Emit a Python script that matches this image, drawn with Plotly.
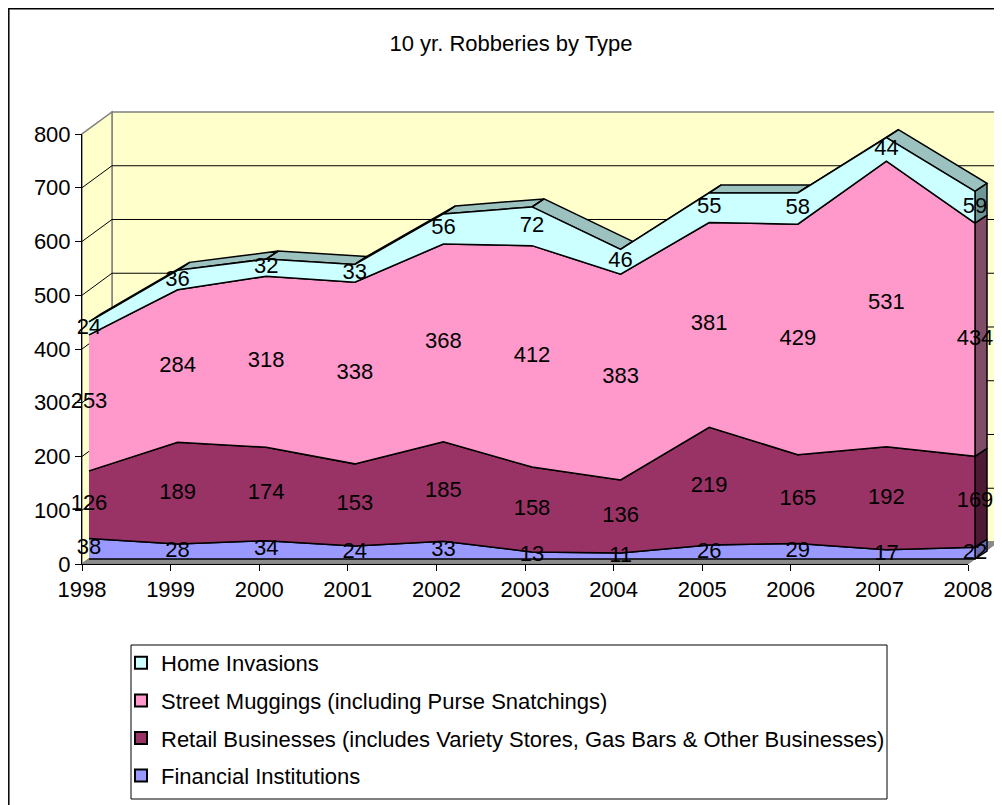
import plotly.graph_objects as go

# ---------------- data ----------------
years = [1998, 1999, 2000, 2001, 2002, 2003, 2004, 2005, 2006, 2007, 2008]
financial = [38, 28, 34, 24, 33, 13, 11, 26, 29, 17, 22]
retail = [126, 189, 174, 153, 185, 158, 136, 219, 165, 192, 169]
street = [253, 284, 318, 338, 368, 412, 383, 381, 429, 531, 434]
home = [24, 36, 32, 33, 56, 72, 46, 55, 58, 44, 59]
y_ticks = [0, 100, 200, 300, 400, 500, 600, 700, 800]

names = ["Financial Institutions",
         "Retail Businesses (includes Variety Stores, Gas Bars & Other Businesses)",
         "Street Muggings (including Purse Snatchings)",
         "Home Invasions"]
front_colors = ["#9999FF", "#993366", "#FF99CC", "#CCFFFF"]
side_colors = ["#6B6BB3", "#4D1A33", "#804D66", "#6E9696"]
top_color = "#9CC2C0"

# ---------------- geometry (page pixels) ----------------
W, H = 1002, 805
OFF = 8                      # page offset of the figure div (body margin)
FX0, FX1 = 82, 968           # front x axis: 1998 .. 2008
FY0, FY800 = 564, 134        # front y axis: 0 .. 800
PXY = (FX1 - FX0) / (years[-1] - years[0])
PXV = (FY0 - FY800) / 800.0
SER_DX, SER_DY = 7, -5       # series front face offset from front plane
DEP_DX, DEP_DY = 12, -8      # series depth
WALL_DX, WALL_DY = 30, -22   # back wall offset
FONT = "Liberation Sans, Arial, sans-serif"
FS = 22


def px(x):
    return (x - OFF) / W


def py(y):
    return 1 - (y - OFF) / H


# series subplot (data face) geometry
SX_A, SX_B = 40, 1000
SY_T, SY_B = 90, 600
ox = FX0 + SER_DX
oy = FY0 + SER_DY


def t_of(p):
    return years[0] + (p - ox) / PXY


def v_of(q):
    return (oy - q) / PXV


ddx = DEP_DX / PXY
ddy = -DEP_DY / PXV

series = [financial, retail, street, home]
lowers, uppers = [], []
base = [0] * len(years)
for s in series:
    lowers.append(base[:])
    base = [b + v for b, v in zip(base, s)]
    uppers.append(base[:])

fig = go.Figure()

# top face of the top-most series
tx, ty = [], []
top = uppers[-1]
for i in range(len(years) - 1):
    tx += [years[i], years[i + 1], years[i + 1] + ddx, years[i] + ddx, years[i], None]
    ty += [top[i], top[i + 1], top[i + 1] + ddy, top[i] + ddy, top[i], None]
fig.add_trace(go.Scatter(x=tx, y=ty, xaxis="x2", yaxis="y2", mode="lines",
                         fill="toself", fillcolor=top_color,
                         line=dict(color="black", width=1.5),
                         showlegend=False, hoverinfo="skip"))

# right side faces at the last year
for k in range(len(series)):
    xe = years[-1]
    lo, up = lowers[k][-1], uppers[k][-1]
    fig.add_trace(go.Scatter(x=[xe, xe, xe + ddx, xe + ddx, xe],
                             y=[lo, up, up + ddy, lo + ddy, lo],
                             xaxis="x2", yaxis="y2", mode="lines", fill="toself",
                             fillcolor=side_colors[k],
                             line=dict(color="black", width=1.5),
                             showlegend=False, hoverinfo="skip"))

# front faces
for k in range(len(series)):
    fig.add_trace(go.Scatter(x=years + years[::-1],
                             y=uppers[k] + lowers[k][::-1],
                             xaxis="x2", yaxis="y2", mode="lines", fill="toself",
                             fillcolor=front_colors[k],
                             line=dict(color="black", width=1.5),
                             showlegend=False, hoverinfo="skip"))

# data labels
for k in range(len(series)):
    mids = [(lo + up) / 2 for lo, up in zip(lowers[k], uppers[k])]
    fig.add_trace(go.Scatter(x=years, y=mids, xaxis="x2", yaxis="y2", mode="text",
                             text=[str(v) for v in series[k]],
                             textfont=dict(family=FONT, size=FS, color="black"),
                             textposition="middle center", cliponaxis=False,
                             showlegend=False, hoverinfo="skip"))

# legend entries (top to bottom)
for k in [3, 2, 1, 0]:
    fig.add_trace(go.Scatter(x=[None], y=[None], mode="markers", name=names[k],
                             legendgroup=names[k],
                             marker=dict(symbol="square", size=11, color=front_colors[k],
                                         line=dict(color="black", width=1.5))))

# ---------------- walls (shapes) ----------------
shapes = []
bx0, bx1 = FX0 + WALL_DX, FX1 + WALL_DX
by_top, by_bot = FY800 + WALL_DY, FY0 + WALL_DY


def path(points):
    return "M " + " L ".join(f"{px(a):.5f},{py(b):.5f}" for a, b in points) + " Z"


def line_path(points):
    return "M " + " L ".join(f"{px(a):.5f},{py(b):.5f}" for a, b in points)


wall_fill = "#FFFFCC"
gray = "#808080"
# back wall
shapes.append(dict(type="path", xref="paper", yref="paper", layer="below",
                   path=path([(bx0, by_top), (bx1, by_top), (bx1, by_bot), (bx0, by_bot)]),
                   fillcolor=wall_fill, line=dict(color=gray, width=1.5)))
# left wall
shapes.append(dict(type="path", xref="paper", yref="paper", layer="below",
                   path=path([(FX0, FY0), (FX0, FY800), (bx0, by_top), (bx0, by_bot)]),
                   fillcolor=wall_fill, line=dict(color=gray, width=1.5)))
# grid lines on walls
for v in y_ticks[1:-1]:
    yy = FY0 - v * PXV
    shapes.append(dict(type="path", xref="paper", yref="paper", layer="below",
                       path=line_path([(FX0, yy), (bx0, yy + WALL_DY), (bx1, yy + WALL_DY)]),
                       line=dict(color="black", width=1)))
# floor
shapes.append(dict(type="path", xref="paper", yref="paper", layer="below",
                   path=path([(FX0, FY0), (FX1, FY0), (bx1, by_bot), (bx0, by_bot)]),
                   fillcolor="#8C8C8C", line=dict(color=gray, width=1)))
# outer chart border
shapes.append(dict(type="rect", xref="paper", yref="paper", layer="below",
                   x0=px(8.8), x1=px(1020), y0=py(830), y1=py(8.8),
                   line=dict(color="black", width=1.5), fillcolor="rgba(0,0,0,0)"))
# legend box
shapes.append(dict(type="rect", xref="paper", yref="paper", layer="below",
                   x0=px(131), x1=px(887), y0=py(799), y1=py(645),
                   line=dict(color="black", width=1), fillcolor="white"))

fig.update_layout(
    width=W, height=H, autosize=False,
    margin=dict(l=0, r=0, t=0, b=0, pad=0, autoexpand=False),
    paper_bgcolor="white", plot_bgcolor="rgba(0,0,0,0)",
    font=dict(family=FONT, size=FS, color="black"),
    title=dict(text="10 yr. Robberies by Type", x=px(511), xanchor="center",
               y=py(43), yref="container", yanchor="middle",
               font=dict(family=FONT, size=FS, color="black")),
    xaxis=dict(domain=[px(FX0), px(FX1)], range=[years[0], years[-1]],
               tickvals=years, ticktext=[str(y) for y in years],
               ticks="outside", ticklen=6, tickcolor="black",
               showline=True, linecolor="black", linewidth=1,
               showgrid=False, zeroline=False, automargin=False,
               tickfont=dict(family=FONT, size=FS, color="black"), fixedrange=True),
    yaxis=dict(domain=[py(FY0), py(FY800)], range=[0, 800],
               tickvals=y_ticks, ticktext=[str(v) for v in y_ticks],
               ticks="outside", ticklen=6, tickcolor="black",
               showline=True, linecolor="black", linewidth=1,
               showgrid=False, zeroline=False, automargin=False,
               tickfont=dict(family=FONT, size=FS, color="black"), fixedrange=True),
    xaxis2=dict(domain=[px(SX_A), px(SX_B)], range=[t_of(SX_A), t_of(SX_B)],
                visible=False, anchor="y2", fixedrange=True, automargin=False),
    yaxis2=dict(domain=[py(SY_B), py(SY_T)], range=[v_of(SY_B), v_of(SY_T)],
                visible=False, anchor="x2", fixedrange=True, automargin=False),
    legend=dict(x=px(121), y=py(642), xanchor="left", yanchor="top",
                borderwidth=0, bgcolor="rgba(0,0,0,0)",
                font=dict(family=FONT, size=FS, color="black"),
                traceorder="grouped", tracegroupgap=6, itemsizing="constant"),
    shapes=shapes,
    showlegend=True,
)

fig.write_html("out.html")
